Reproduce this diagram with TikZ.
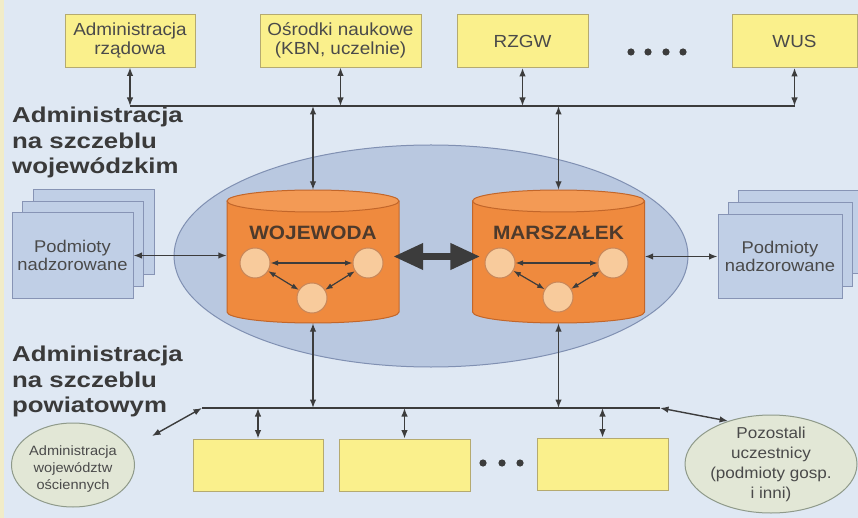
\documentclass[tikz,border=0pt]{standalone}
\usepackage{fontspec}
\setmainfont{Liberation Sans}[FakeStretch=1.08]
\newfontfamily\headfont{Liberation Sans}[FakeStretch=1.2]
\usetikzlibrary{arrows.meta,shapes.geometric,calc}
\definecolor{bgc}{HTML}{DFE8F3}
\definecolor{stripe}{HTML}{F1ECC8}
\definecolor{yfill}{HTML}{FAF08C}
\definecolor{ydraw}{HTML}{B5AA70}
\definecolor{linec}{HTML}{3C3C3C}
\definecolor{txt}{HTML}{4A4A4A}
\definecolor{headc}{HTML}{3A3A3A}
\definecolor{ellfill}{HTML}{B9C8E0}
\definecolor{elldraw}{HTML}{8090B2}
\definecolor{pfill}{HTML}{C0CFE6}
\definecolor{pdraw}{HTML}{8794B5}
\definecolor{cylfill}{HTML}{EF8A3E}
\definecolor{cyltop}{HTML}{F39A55}
\definecolor{cyldraw}{HTML}{C2662A}
\definecolor{circfill}{HTML}{F8CB9C}
\definecolor{circdraw}{HTML}{C8875A}
\definecolor{cyltext}{HTML}{4D3A2C}
\definecolor{gfill}{HTML}{E2E7D6}
\definecolor{gdraw}{HTML}{8F9A8A}
\begin{document}
\begin{tikzpicture}[x=1pt,y=-1pt,
  >={Latex[length=8.5pt,width=6.5pt]},
  line/.style={draw=linec,line width=1.4pt},
  dbl/.style={line,<->},
  sdbl/.style={draw=linec,line width=1.2pt,arrows={Latex[length=7.5pt,width=5.5pt]-Latex[length=7.5pt,width=5.5pt]}},
  bigarrow/.style={draw=linec,fill=linec,line width=7pt,arrows={Triangle[length=30pt,width=25pt]-Triangle[length=30pt,width=25pt]}},
  ybox/.style={draw=ydraw,fill=yfill,line width=0.8pt,inner sep=0pt,minimum height=53pt,align=center,text=txt,font=\fontsize{17.5}{18.5}\selectfont},
  ybox2/.style={draw=ydraw,fill=yfill,line width=0.8pt,inner sep=0pt,minimum height=52pt},
  pbox/.style={draw=pdraw,fill=pfill,line width=1pt,inner sep=0pt,minimum width=#1,minimum height=85pt,align=center,text=txt,font=\fontsize{17}{18}\selectfont},
  pbox/.default=121pt,
  ell/.style={ellipse,draw=gdraw,fill=gfill,line width=1pt,inner sep=0pt},
  etext/.style={align=center,text=txt,inner sep=0pt},
  head/.style={align=left,text=headc,inner sep=0pt,anchor=north west,font=\headfont\bfseries\fontsize{21.5}{25.5}\selectfont},
  circ/.style={circle,draw=circdraw,fill=circfill,line width=1pt,minimum size=30pt,inner sep=0pt},
  cyltxt/.style={text=cyltext,inner sep=0pt,font=\bfseries\fontsize{19.3}{20}\selectfont},
  cylpic/.pic={
    \fill[cylfill] (-86,-55.5) rectangle (86,55.5);
    \fill[cylfill] (0,55.5) ellipse [x radius=86, y radius=11];
    \draw[cyldraw,line width=1pt] (-86,-55.5) -- (-86,55.5) arc [start angle=180, end angle=0, x radius=86, y radius=11] -- (86,-55.5);
    \draw[cyldraw,line width=1pt,fill=cyltop] (0,-55.5) ellipse [x radius=86, y radius=11];
  }
]
\useasboundingbox (0,0) rectangle (858,518);
\fill[bgc] (0,0) rectangle (858,518);
\fill[stripe] (0,0) rectangle (4,518);

% headings
\node[head] (h1) at (12,107) {Administracja\\na szczeblu\\wojewódzkim};
\node[head] (h2) at (12,346) {Administracja\\na szczeblu\\powiatowym};

% top boxes
\node[ybox,minimum width=130pt] (t1) at (130,40.5) {Administracja\\rządowa};
\node[ybox,minimum width=161pt] (t2) at (340.5,40.5) {Ośrodki naukowe\\(KBN, uczelnie)};
\node[ybox,minimum width=131pt] (t3) at (522.5,41) {RZGW};
\node[ybox,minimum width=125pt] (t4) at (794.5,41) {WUS};
\foreach \xx in {631,648,666,683} \fill[linec] (\xx,52) circle (3.6);

% big ellipse
\node[ellipse,draw=elldraw,fill=ellfill,line width=1pt,minimum width=514pt,minimum height=222pt,inner sep=0pt] (reg) at (431,256) {};

% supervised entities
\node[pbox] (pl3) at (93.5,232.5) {};
\node[pbox] (pl2) at (83,244) {};
\node[pbox] (pl1) at (72.5,255.5) {Podmioty\\nadzorowane};
\node[pbox=124pt,minimum height=83pt] (pr3) at (800,232.5) {};
\node[pbox=124pt,minimum height=83pt] (pr2) at (790,244.5) {};
\node[pbox=124pt,minimum height=83pt] (pr1) at (780,256.5) {Podmioty\\nadzorowane};

% cylinders
\pic at (313,256.5) {cylpic};
\pic at (558.5,256.5) {cylpic};
\node[inner sep=0pt,minimum width=172pt,minimum height=133pt] (woj) at (313,256.5) {};
\node[inner sep=0pt,minimum width=172pt,minimum height=133pt] (mar) at (558.5,256.5) {};
\node[cyltxt] (wojt) at (313,233) {WOJEWODA};
\node[cyltxt] (mart) at (558.5,233) {MARSZAŁEK};

\node[circ] (w1) at (255,263) {};
\node[circ] (w2) at (368,263) {};
\node[circ] (w3) at (312,298) {};
\node[circ] (m1) at (500,263) {};
\node[circ] (m2) at (613,263) {};
\node[circ] (m3) at (558,297) {};
\draw[sdbl] (w1) -- (w2);
\draw[sdbl] (w1) -- (w3);
\draw[sdbl] (w2) -- (w3);
\draw[sdbl] (m1) -- (m2);
\draw[sdbl] (m1) -- (m3);
\draw[sdbl] (m2) -- (m3);

% top bus
\coordinate (busT) at (0,106);
\draw[line] (t1.south |- busT) -- (t4.south |- busT);
\foreach \n in {t1,t2,t3,t4} \draw[dbl] (\n.south) -- (\n.south |- busT);
\draw[dbl] (woj.north |- busT) -- (woj.north);
\draw[dbl] (mar.north |- busT) -- (mar.north);

% side links
\draw[dbl] (pl1.east) -- (pl1.east -| woj.west);
\draw[dbl] (mar.east) -- (mar.east -| pr1.west);
\draw[bigarrow] ([xshift=-6pt]woj.east) -- ([xshift=8pt]mar.west);

% bottom bus
\coordinate (busL) at (202,408);
\coordinate (busR) at (660,408);
\draw[line] (busL) -- (busR);
\draw[dbl] (woj.south) -- (woj.south |- busL);
\draw[dbl] (mar.south) -- (mar.south |- busL);

\node[ybox2,minimum width=130pt] (b1) at (258,465) {};
\node[ybox2,minimum width=131pt] (b2) at (404.5,465) {};
\node[ybox2,minimum width=131pt] (b3) at (602.5,464) {};
\foreach \n in {b1,b2,b3} \draw[dbl] (\n.north |- busL) -- (\n.north);
\foreach \xx in {483,502,520} \fill[linec] (\xx,463) circle (3.6);

\node[ell,minimum width=123pt,minimum height=84pt] (e1) at (73,465) {};
\node[etext,font=\fontsize{13.5}{17}\selectfont] (e1t) at ([yshift=-4pt]e1.center) {Administracja\\województw\\ościennych};
\node[ell,minimum width=172pt,minimum height=98pt] (e2) at (771,464) {};
\node[etext,font=\fontsize{15.8}{20}\selectfont] (e2t) at (e2.center) {Pozostali\\uczestnicy\\(podmioty gosp.\\i inni)};

\coordinate (e1tip) at (152,436);
\draw[dbl] (busL) -- (e1tip);
\draw[dbl] (busR) -- (e2.135);
\end{tikzpicture}
\end{document}
